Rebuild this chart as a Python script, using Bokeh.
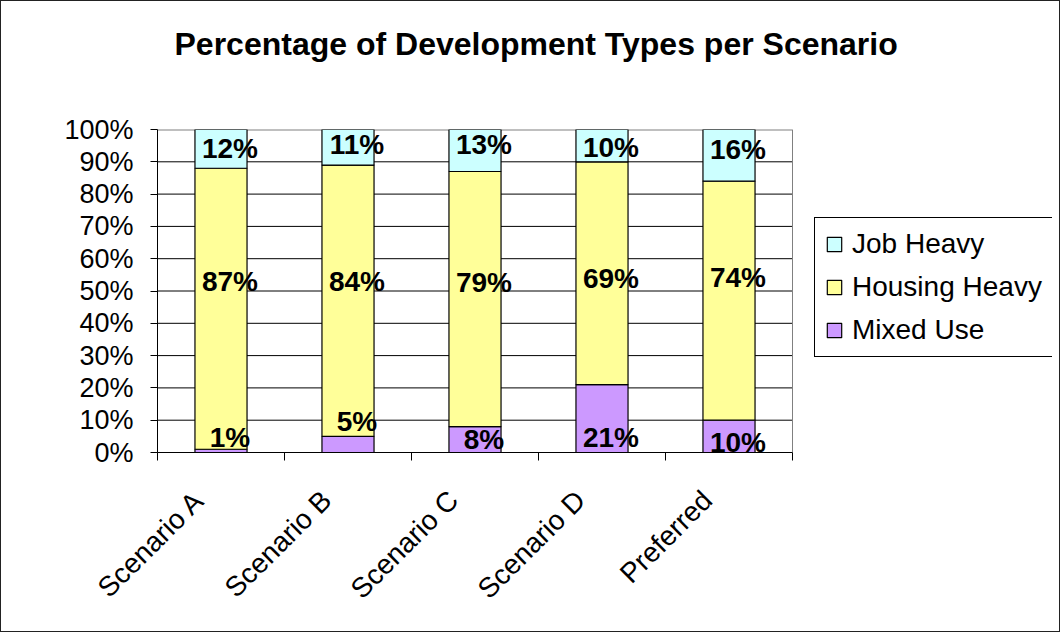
import math
from bokeh.plotting import figure
from bokeh.models import FixedTicker, Range1d, Legend, LegendItem, ColumnDataSource, Title
from bokeh.core.properties import value
from bokeh.embed import file_html
from bokeh.resources import INLINE

# ---- data ----
categories = ["Scenario A", "Scenario B", "Scenario C", "Scenario D", "Preferred"]
mixed_use = [1, 5, 8, 21, 10]
housing_heavy = [87, 84, 79, 69, 74]
job_heavy = [12, 11, 13, 10, 16]
series_names = ["Mixed Use", "Housing Heavy", "Job Heavy"]
series_colors = ["#CC99FF", "#FFFF99", "#CCFFFF"]
y_ticks = [0, 10, 20, 30, 40, 50, 60, 70, 80, 90, 100]
y_tick_labels = ["0%", "10%", "20%", "30%", "40%", "50%", "60%", "70%", "80%", "90%", "100%"]
title_text = "Percentage of Development Types per Scenario"

# vertical placement of the value labels (as drawn in the original, in axis %)
mixed_label_y = [4.5, 9.5, 4.0, 4.5, 3.2]
housing_label_y = [53.0, 53.0, 52.5, 54.0, 54.3]
job_label_y = [94.0, 95.5, 95.5, 94.3, 93.8]

FONT = "Liberation Sans"
N = len(categories)

# layout: plot area 635 px wide; the drawing frame extends to the right to hold the legend
PLOT_W = 635
FRAME_W = 895
x_end = N * FRAME_W / PLOT_W

xs = [i + 0.5 for i in range(N)]
# slanted category labels end a little left of the category centre
label_ticks = [x - 0.17 for x in xs]
src = ColumnDataSource(dict(x=xs, mixed=mixed_use, housing=housing_heavy, job=job_heavy))

p = figure(frame_width=FRAME_W, frame_height=323, output_backend="svg", toolbar_location=None,
           title=None,
           x_range=Range1d(0, x_end), y_range=Range1d(0, 100),
           min_border_left=156, min_border_right=7, min_border_top=128, min_border_bottom=179)
p.styles = {"border": "1px solid #222"}

# spacer (closest to the frame) then the real title above it
spacer = Title(text=" ", text_font_size="1px", standoff=60, text_color="white")
p.add_layout(spacer, "above")
ttl = Title(text=title_text, text_font=FONT, text_font_size="32px", text_font_style="bold",
            text_color="black", align="left", offset=17, standoff=10)
p.add_layout(ttl, "above")

p.outline_line_color = None
p.xgrid.visible = False
p.ygrid.visible = False

# gridlines and plot-area border, limited to the category span
grid_y = y_ticks[1:-1]
p.segment(x0=[0] * len(grid_y), x1=[N] * len(grid_y), y0=grid_y, y1=grid_y,
          line_color="black", line_width=1)
p.segment(x0=[0], x1=[N], y0=[y_ticks[-1]], y1=[y_ticks[-1]], line_color="#808080", line_width=2)
p.segment(x0=[N], x1=[N], y0=[0], y1=[y_ticks[-1]], line_color="#808080", line_width=1)

rs = p.vbar_stack(["mixed", "housing", "job"], x="x", width=0.41, source=src,
                  fill_color=series_colors, line_color="black", line_width=1.2)

# y axis
ya = p.yaxis[0]
ya.ticker = FixedTicker(ticks=y_ticks)
ya.major_label_overrides = {t: l for t, l in zip(y_ticks, y_tick_labels)}
ya.major_label_text_font = FONT
ya.major_label_text_font_size = "27px"
ya.major_label_text_color = "black"
ya.axis_line_color = "black"
ya.major_tick_in = 0
ya.major_tick_out = 7
ya.major_tick_line_color = "black"
ya.minor_tick_line_color = None
ya.major_label_standoff = 17

# x axis
xa = p.xaxis[0]
xa.bounds = (0, N)
xa.ticker = FixedTicker(ticks=label_ticks, minor_ticks=list(range(N + 1)))
xa.major_label_overrides = {x: c for x, c in zip(label_ticks, categories)}
xa.major_label_orientation = math.pi / 4
xa.major_label_text_font = FONT
xa.major_label_text_font_size = "28px"
xa.major_label_text_color = "black"
xa.axis_line_color = "black"
xa.major_tick_in = 0
xa.major_tick_out = 0
xa.minor_tick_in = 0
xa.minor_tick_out = 8
xa.minor_tick_line_color = "black"
xa.major_label_standoff = 35

# value labels
for ys, vals in ((mixed_label_y, mixed_use), (housing_label_y, housing_heavy), (job_label_y, job_heavy)):
    p.text(x=xs, y=ys, text=[f"{v}%" for v in vals], text_font=value(FONT),
           text_font_style="bold", text_font_size="28px", text_color="black",
           text_align="center", text_baseline="middle", x_offset=9)

legend = Legend(items=[LegendItem(label=series_names[2], renderers=[rs[2]]),
                       LegendItem(label=series_names[1], renderers=[rs[1]]),
                       LegendItem(label=series_names[0], renderers=[rs[0]])],
                location=(657, 95))
legend.border_line_color = "black"
legend.border_line_alpha = 1.0
legend.border_line_width = 1
legend.background_fill_color = "white"
legend.background_fill_alpha = 1.0
legend.label_text_font = FONT
legend.label_text_font_size = "28px"
legend.label_text_color = "black"
legend.glyph_width = 18
legend.glyph_height = 18
legend.label_standoff = 9
legend.spacing = 11
legend.padding = 10
legend.margin = 0
p.add_layout(legend)

open("out.html", "w").write(file_html(p, INLINE))
